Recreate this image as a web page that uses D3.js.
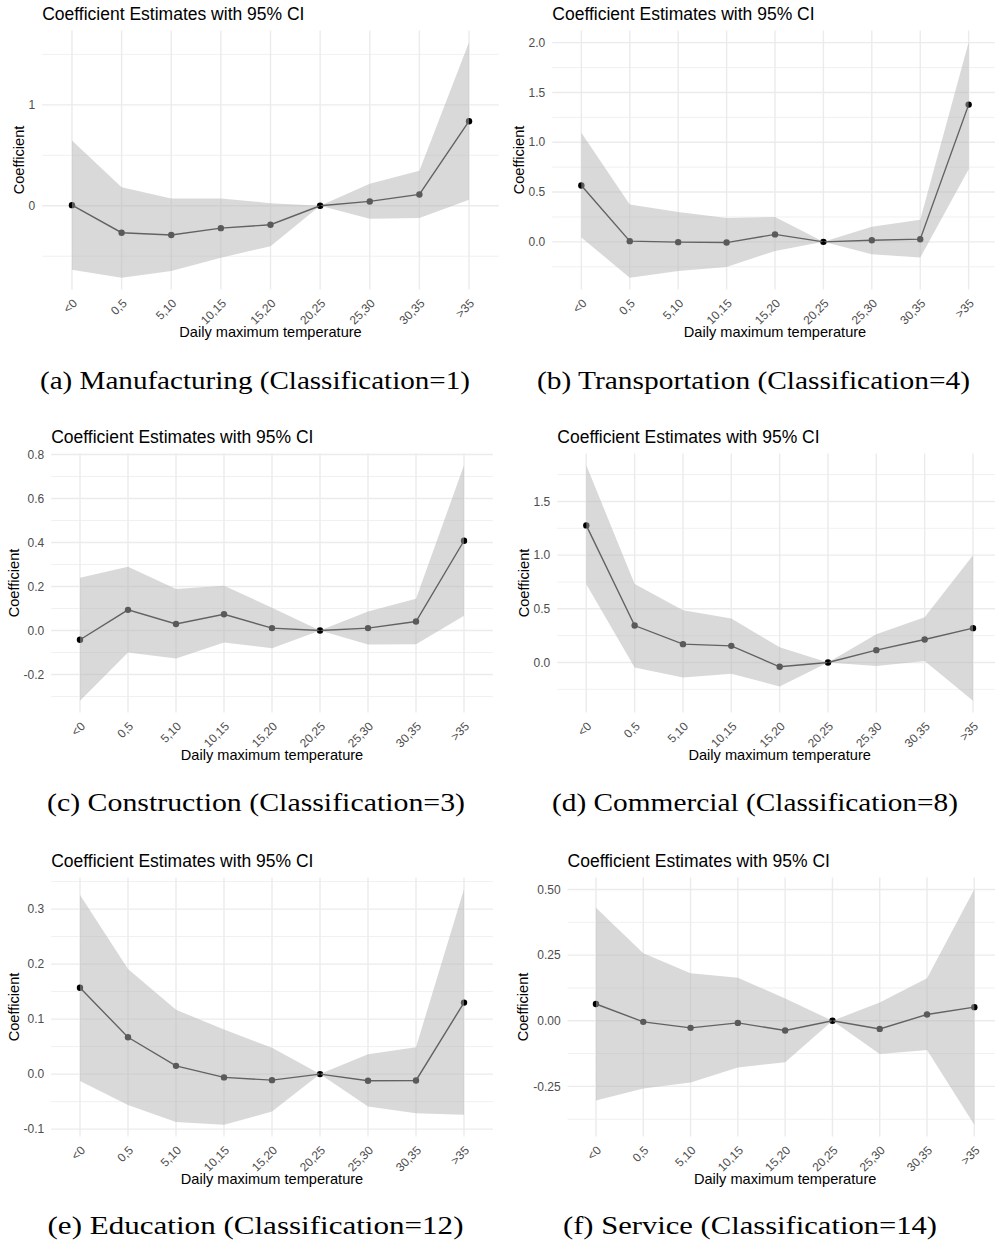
<!DOCTYPE html>
<html>
<head>
<meta charset="utf-8">
<script src="https://cdn.jsdelivr.net/npm/d3@7"></script>
<style>
  html, body { margin: 0; padding: 0; background: #ffffff; }
  svg { display: block; }
</style>
</head>
<body>
<svg id="chart" width="995" height="1243"></svg>
<script>
// ---------------- DATA ----------------
const categories = ["<0", "0,5", "5,10", "10,15", "15,20", "20,25", "25,30", "30,35", ">35"];

const titleText = "Coefficient Estimates with 95% CI";
const xAxisTitle = "Daily maximum temperature";
const yAxisTitle = "Coefficient";

// (a) Manufacturing
const estA   = [0.006, -0.267, -0.290, -0.222, -0.188, 0, 0.043, 0.112, 0.838];
const upperA = [0.647,  0.184,  0.072,  0.072,  0.026, 0, 0.218, 0.347, 1.620];
const lowerA = [-0.634, -0.713, -0.647, -0.515, -0.400, 0, -0.129, -0.122, 0.059];
const ticksA = [0, 1];
const tickLabelsA = ["0", "1"];
const minorA = [-0.5, 0.5, 1.5];

// (b) Transportation
const estB   = [0.566, 0.007, -0.003, -0.007, 0.075, 0, 0.017, 0.027, 1.378];
const upperB = [1.095, 0.374,  0.300,  0.240, 0.250, 0, 0.152, 0.222, 2.004];
const lowerB = [0.044, -0.360, -0.293, -0.252, -0.091, 0, -0.124, -0.158, 0.730];
const ticksB = [0, 0.5, 1, 1.5, 2];
const tickLabelsB = ["0.0", "0.5", "1.0", "1.5", "2.0"];
const minorB = [-0.25, 0.25, 0.75, 1.25, 1.75];

// (c) Construction
const estC   = [-0.042, 0.094, 0.030, 0.074, 0.011, 0, 0.011, 0.041, 0.408];
const upperC = [0.240, 0.290, 0.189, 0.204, 0.104, 0, 0.086, 0.144, 0.751];
const lowerC = [-0.319, -0.100, -0.127, -0.054, -0.080, 0, -0.063, -0.062, 0.067];
const ticksC = [-0.2, 0, 0.2, 0.4, 0.6, 0.8];
const tickLabelsC = ["-0.2", "0.0", "0.2", "0.4", "0.6", "0.8"];
const minorC = [-0.3, -0.1, 0.1, 0.3, 0.5, 0.7];

// (d) Commercial
const estD   = [1.277, 0.344, 0.171, 0.155, -0.040, 0, 0.115, 0.214, 0.320];
const upperD = [1.837, 0.731, 0.487, 0.409, 0.143, 0, 0.264, 0.422, 0.998];
const lowerD = [0.729, -0.046, -0.139, -0.105, -0.223, 0, -0.033, 0.013, -0.356];
const ticksD = [0, 0.5, 1, 1.5];
const tickLabelsD = ["0.0", "0.5", "1.0", "1.5"];
const minorD = [-0.25, 0.25, 0.75, 1.25, 1.75];

// (e) Education
const estE   = [0.157, 0.067, 0.015, -0.006, -0.011, 0, -0.012, -0.0115, 0.130];
const upperE = [0.3255, 0.191, 0.117, 0.081, 0.048, 0, 0.036, 0.049, 0.336];
const lowerE = [-0.0127, -0.056, -0.087, -0.092, -0.068, 0, -0.059, -0.071, -0.074];
const ticksE = [-0.1, 0, 0.1, 0.2, 0.3];
const tickLabelsE = ["-0.1", "0.0", "0.1", "0.2", "0.3"];
const minorE = [-0.05, 0.05, 0.15, 0.25, 0.35];

// (f) Service
const estF   = [0.064, -0.004, -0.027, -0.008, -0.037, 0, -0.031, 0.024, 0.052];
const upperF = [0.431, 0.257, 0.181, 0.164, 0.085, 0, 0.070, 0.162, 0.501];
const lowerF = [-0.304, -0.258, -0.235, -0.178, -0.158, 0, -0.127, -0.111, -0.396];
const ticksF = [-0.25, 0, 0.25, 0.5];
const tickLabelsF = ["-0.25", "0.00", "0.25", "0.50"];
const minorF = [-0.375, -0.125, 0.125, 0.375];

const captions = [
  "(a) Manufacturing (Classification=1)",
  "(b) Transportation (Classification=4)",
  "(c) Construction (Classification=3)",
  "(d) Commercial (Classification=8)",
  "(e) Education (Classification=12)",
  "(f) Service (Classification=14)"
];

// ---------------- LAYOUT ----------------
const rowTops = [0, 423, 847];
const layout = [
  { row: 0, L: 42.2,  R: 498.8,  capX: 255,   capW: 430 },
  { row: 0, L: 552.3, R: 997.7,  capX: 753.5, capW: 433 },
  { row: 1, L: 51.2,  R: 492.8,  capX: 256,   capW: 418 },
  { row: 1, L: 557.3, R: 1002.0, capX: 755,   capW: 406 },
  { row: 2, L: 51.2,  R: 492.8,  capX: 255.5, capW: 416 },
  { row: 2, L: 567.6, R: 1002.7, capX: 750,   capW: 374 }
];
const captionBaselines = [389, 811, 1234];

const panels = [
  { est: estA, hi: upperA, lo: lowerA, ticks: ticksA, labels: tickLabelsA, minor: minorA },
  { est: estB, hi: upperB, lo: lowerB, ticks: ticksB, labels: tickLabelsB, minor: minorB },
  { est: estC, hi: upperC, lo: lowerC, ticks: ticksC, labels: tickLabelsC, minor: minorC },
  { est: estD, hi: upperD, lo: lowerD, ticks: ticksD, labels: tickLabelsD, minor: minorD },
  { est: estE, hi: upperE, lo: lowerE, ticks: ticksE, labels: tickLabelsE, minor: minorE },
  { est: estF, hi: upperF, lo: lowerF, ticks: ticksF, labels: tickLabelsF, minor: minorF }
];

const SANS = "'Liberation Sans', Arial, Helvetica, sans-serif";
const SERIF = "'Liberation Serif', 'Times New Roman', serif";
const gridColor = "#ebebeb";
const tickColor = "#4d4d4d";

const svg = d3.select("#chart");
svg.append("rect").attr("width", 995).attr("height", 1243).attr("fill", "#ffffff");

panels.forEach((p, i) => {
  const lay = layout[i];
  const y0 = rowTops[lay.row];
  const top = y0 + 30.5, bottom = y0 + 289.5;
  const g = svg.append("g");

  const x = d3.scalePoint().domain(categories).range([lay.L, lay.R]).padding(0.6);
  const mn = d3.min(p.lo), mx = d3.max(p.hi);
  const pad = (mx - mn) * 0.05;
  const y = d3.scaleLinear().domain([mn - pad, mx + pad]).range([bottom, top]);
  const [dLo, dHi] = y.domain();

  // minor horizontal grid
  g.selectAll(".minor").data(p.minor.filter(v => v >= dLo && v <= dHi)).join("line")
    .attr("x1", lay.L).attr("x2", lay.R)
    .attr("y1", d => y(d)).attr("y2", d => y(d))
    .attr("stroke", gridColor).attr("stroke-width", 0.75);
  // major horizontal grid
  g.selectAll(".major").data(p.ticks).join("line")
    .attr("x1", lay.L).attr("x2", lay.R)
    .attr("y1", d => y(d)).attr("y2", d => y(d))
    .attr("stroke", gridColor).attr("stroke-width", 1.4);
  // vertical grid
  g.selectAll(".vgrid").data(categories).join("line")
    .attr("x1", d => x(d)).attr("x2", d => x(d))
    .attr("y1", top).attr("y2", bottom)
    .attr("stroke", gridColor).attr("stroke-width", 1.4);

  const rows = categories.map((c, k) => ({ c, est: p.est[k], hi: p.hi[k], lo: p.lo[k] }));

  // line
  g.append("path").datum(rows)
    .attr("d", d3.line().x(d => x(d.c)).y(d => y(d.est)))
    .attr("fill", "none").attr("stroke", "#111111").attr("stroke-width", 1.4);
  // points
  g.selectAll(".pt").data(rows).join("circle")
    .attr("cx", d => x(d.c)).attr("cy", d => y(d.est)).attr("r", 3.2)
    .attr("fill", "#000000");
  // ribbon on top
  g.append("path").datum(rows)
    .attr("d", d3.area().x(d => x(d.c)).y0(d => y(d.lo)).y1(d => y(d.hi)))
    .attr("fill", "#b3b3b3").attr("fill-opacity", 0.5);

  // y tick labels
  const yl = g.selectAll(".ytl").data(p.ticks).join("text")
    .attr("x", lay.L - 7).attr("y", d => y(d)).attr("dy", "0.35em")
    .attr("text-anchor", "end")
    .attr("font-family", SANS).attr("font-size", 12).attr("fill", tickColor)
    .text((d, k) => p.labels[k]);
  let minLeft = Infinity;
  yl.each(function () { const b = this.getBBox(); minLeft = Math.min(minLeft, b.x); });

  // x tick labels
  g.selectAll(".xtl").data(categories).join("text")
    .attr("transform", d => `translate(${x(d)},${bottom + 8.5}) rotate(-45)`)
    .attr("dy", "0.71em").attr("text-anchor", "end")
    .attr("font-family", SANS).attr("font-size", 12).attr("fill", tickColor)
    .text(d => d);

  // axis titles
  g.append("text")
    .attr("x", (lay.L + lay.R) / 2).attr("y", y0 + 337)
    .attr("text-anchor", "middle")
    .attr("font-family", SANS).attr("font-size", 14.6).attr("fill", "#000000")
    .text(xAxisTitle);
  g.append("text")
    .attr("transform", `translate(${minLeft - 5},${(top + bottom) / 2}) rotate(-90)`)
    .attr("text-anchor", "middle")
    .attr("font-family", SANS).attr("font-size", 14.6).attr("fill", "#000000")
    .text(yAxisTitle);

  // plot title
  g.append("text")
    .attr("x", lay.L).attr("y", y0 + 20.3)
    .attr("font-family", SANS).attr("font-size", 17.5).attr("fill", "#000000")
    .text(titleText);

  // caption
  const cy = captionBaselines[lay.row];
  svg.append("text")
    .attr("x", lay.capX - lay.capW / 2).attr("y", cy)
    .attr("textLength", lay.capW).attr("lengthAdjust", "spacingAndGlyphs")
    .attr("font-family", SERIF).attr("font-size", 26).attr("fill", "#000000")
    .text(captions[i]);
});
</script>
</body>
</html>
